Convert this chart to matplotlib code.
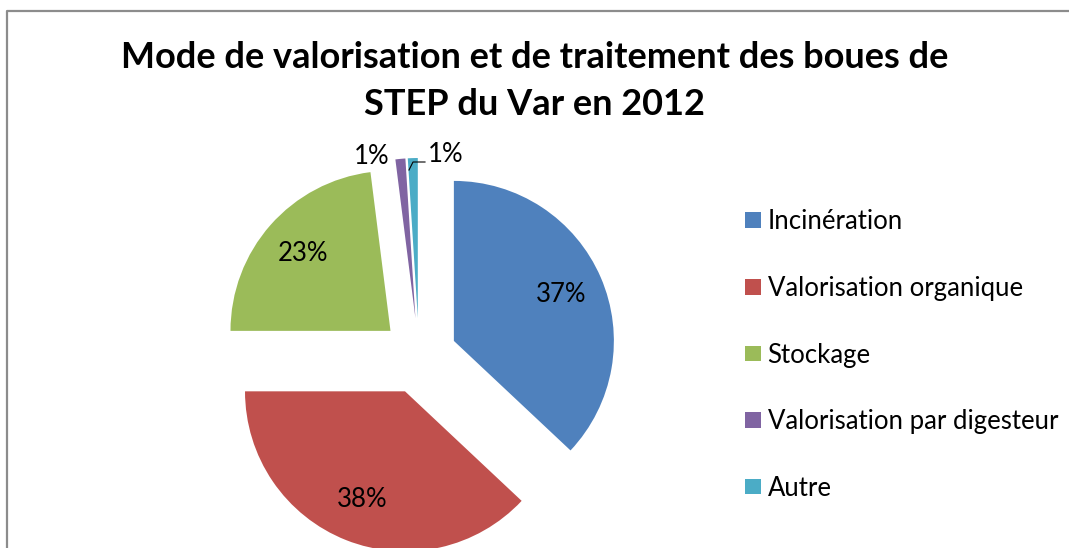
import matplotlib
matplotlib.use("Agg")
from matplotlib import pyplot as plt
from matplotlib.lines import Line2D

plt.rcParams["font.family"] = ["Lato", "DejaVu Sans"]

TITLE = "Mode de valorisation et de traitement des boues de\nSTEP du Var en 2012"
CATEGORIES = [
    "Incinération",
    "Valorisation organique",
    "Stockage",
    "Valorisation par digesteur",
    "Autre",
]
SHARES = [37, 38, 23, 1, 1]
COLORS = ["#4F81BD", "#C0504D", "#9BBB59", "#8064A2", "#4BACC6"]

W, H = 1069, 548


def run():
    fig = plt.figure(figsize=(W / 100, H / 100), dpi=100)
    ax = fig.add_axes([0, 0, 1, 1])

    wedges, texts, autotexts = ax.pie(
        SHARES,
        colors=COLORS,
        startangle=90,
        counterclock=False,
        explode=[38] * len(SHARES),
        radius=160,
        center=(419, 192),
        autopct="%1.0f%%",
        pctdistance=0.73,
        textprops={"fontsize": 18.5, "color": "black"},
        wedgeprops={"linewidth": 0},
    )
    ax.set_xlim(0, W)
    ax.set_ylim(0, H)
    ax.set_aspect("equal")
    ax.axis("off")

    # the two small slices get their labels outside
    autotexts[3].set_position((372, H - 157))
    autotexts[4].set_position((446, H - 154))
    ax.plot([409, 413, 425], [H - 170, H - 162, H - 162], color="black", lw=0.8)

    fig.text(0.5, 1 - 81 / H, TITLE, ha="center", va="center",
             fontsize=26, fontweight="bold", linespacing=1.5)

    ax.legend(
        wedges,
        CATEGORIES,
        loc="upper left",
        bbox_to_anchor=(735 / W, 1 - 199 / H),
        bbox_transform=fig.transFigure,
        borderaxespad=0,
        frameon=False,
        fontsize=18.5,
        labelspacing=1.62,
        handlelength=0.62,
        handleheight=0.55,
        handletextpad=0.25,
    )

    # chart frame (only top and left edges are visible in the crop)
    fig.add_artist(Line2D([7 / W, 7 / W, 1], [0, 1 - 11 / H, 1 - 11 / H],
                          transform=fig.transFigure, color="#8c8c8c", lw=1.6))

    fig.savefig("out.png", dpi=100)


if __name__ == "__main__":
    run()
